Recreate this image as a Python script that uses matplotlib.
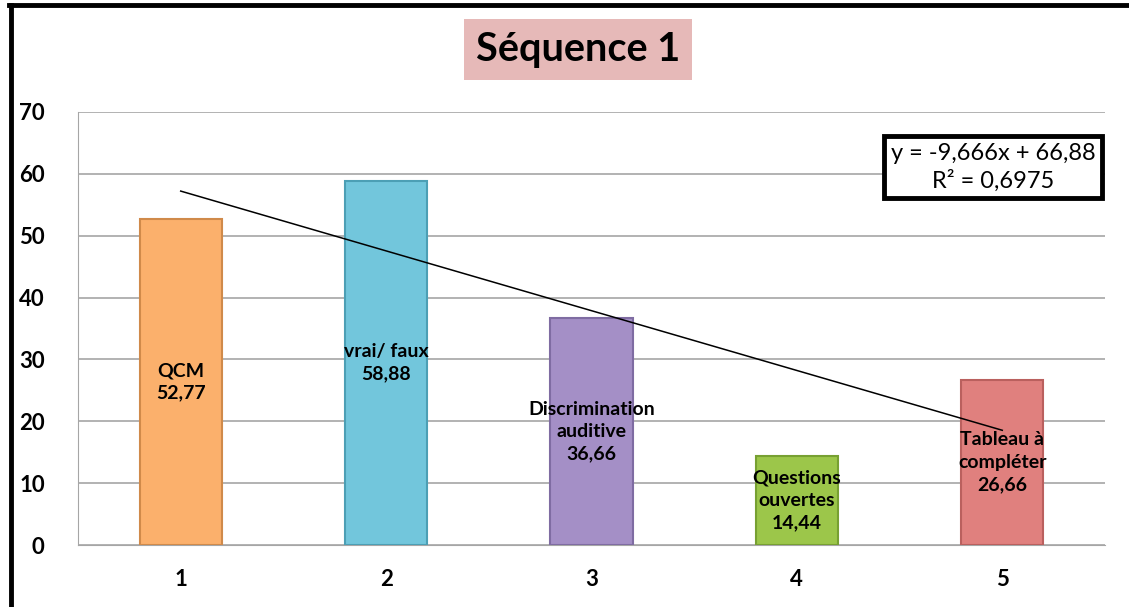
import numpy as np
import matplotlib.pyplot as plt
from matplotlib.lines import Line2D

plt.rcParams["font.family"] = ["Lato", "DejaVu Sans"]

# -------------------- Data --------------------
positions = [1, 2, 3, 4, 5]
scores = [52.77, 58.88, 36.66, 14.44, 26.66]
activities = ["QCM", "vrai/ faux", "Discrimination\nauditive", "Questions\nouvertes", "Tableau à\ncompléter"]
bar_colors = ["#FBB06C", "#72C6DC", "#A48FC6", "#9CC64A", "#E0807E"]
edge_colors = ["#D08A4A", "#4C9FB5", "#7F6CA2", "#77A032", "#BA605E"]
y_ticks = [0, 10, 20, 30, 40, 50, 60, 70]


def fmt(v, nd=2):
    return f"{v:.{nd}f}".replace(".", ",")


# -------------------- Figure --------------------
fig = plt.figure(figsize=(11.29, 6.07), dpi=100)
ax = fig.add_axes([0.0691, 0.1021, 0.9096, 0.7134])

x = np.array(positions)
y = np.array(scores)

ax.bar(x, y, width=0.4, color=bar_colors, edgecolor=edge_colors, linewidth=1.5, zorder=3)

for xi, yi, name in zip(x, y, activities):
    ax.text(xi, yi / 2, f"{name}\n{fmt(yi)}", ha="center", va="center",
            fontsize=14, fontweight="bold", linespacing=1.4, zorder=5)

# linear trend line
slope, intercept = np.polyfit(x, y, 1)
fit = slope * x + intercept
r2 = 1 - np.sum((y - fit) ** 2) / np.sum((y - y.mean()) ** 2)
ax.plot([x[0], x[-1]], [fit[0], fit[-1]], color="black", lw=1.1, zorder=4)

ax.text(4.955, 61.1, f"y = {fmt(slope, 3)}x + {fmt(intercept, 2)}\nR² = {fmt(r2, 4)}",
        ha="center", va="center", fontsize=17, linespacing=1.3, zorder=6,
        bbox=dict(boxstyle="square,pad=0.3", facecolor="white", edgecolor="black", linewidth=3.5))

ax.set_xlim(0.5, 5.5)
ax.set_ylim(0, 70)
ax.set_xticks(positions)
ax.set_xticklabels([str(p) for p in positions])
ax.set_yticks(y_ticks)
ax.tick_params(axis="x", length=0, labelsize=16, pad=17)
ax.tick_params(axis="y", length=0, labelsize=16, pad=24)
for lbl in ax.get_xticklabels() + ax.get_yticklabels():
    lbl.set_fontweight("bold")
ax.yaxis.grid(True, color="#A6A6A6", lw=1.2, zorder=0)
ax.set_axisbelow(True)
for side in ["top", "right"]:
    ax.spines[side].set_visible(False)
ax.spines["left"].set_color("#A6A6A6")
ax.spines["bottom"].set_color("#A6A6A6")

fig.text(0.512, 0.918, "Séquence 1", ha="center", va="center", fontsize=28.5,
         fontweight="bold",
         bbox=dict(boxstyle="square,pad=0.3", facecolor="#E6B9B8", edgecolor="none"))

# outer frame (left and top edges)
fig.add_artist(Line2D([0.0097, 0.0097], [0.0, 0.992], color="black", lw=3.5,
                      transform=fig.transFigure))
fig.add_artist(Line2D([0.0080, 1.0], [0.992, 0.992], color="black", lw=3.5,
                      transform=fig.transFigure))

fig.savefig("out.png", dpi=100, facecolor="white")
